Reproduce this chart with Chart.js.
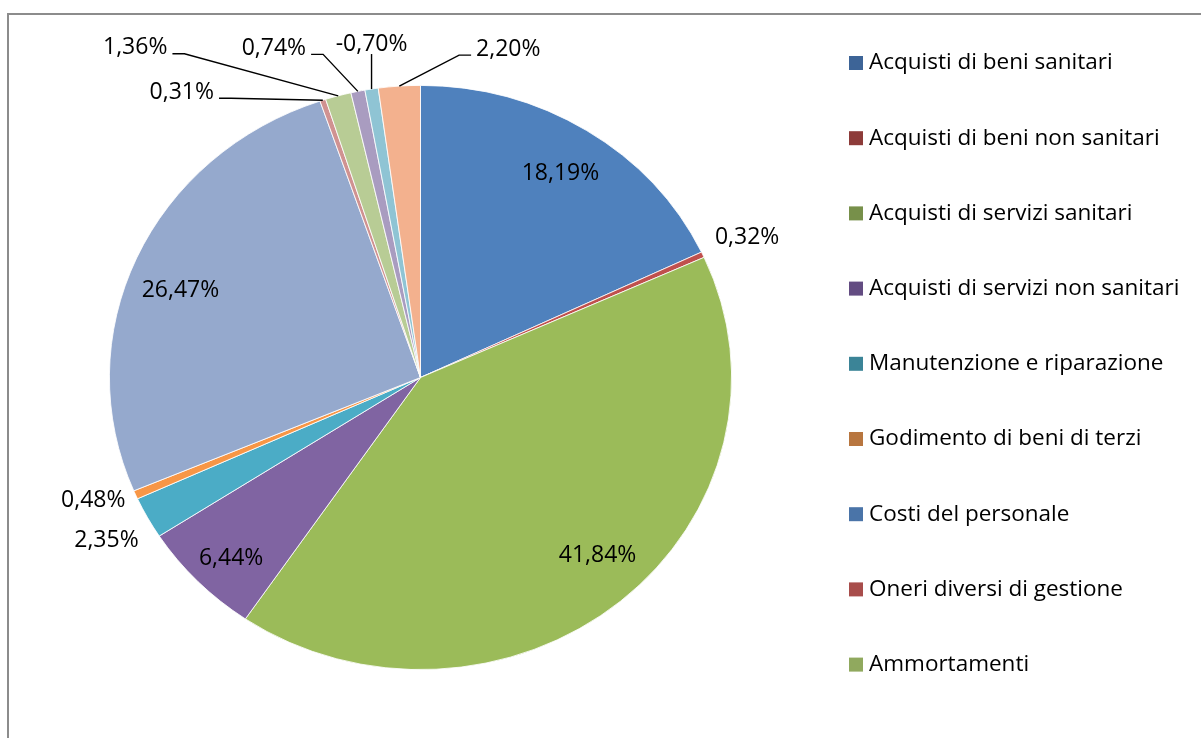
<!DOCTYPE html>
<html lang="it">
<head>
<meta charset="utf-8">
<title>Composizione dei costi</title>
<script src="https://cdn.jsdelivr.net/npm/chart.js@4"></script>
<style>
  html, body { margin: 0; padding: 0; background: #fff; }
  #wrap { position: relative; width: 1201px; height: 738px; overflow: hidden; }
</style>
</head>
<body>
<div id="wrap">
  <canvas id="costChart" width="1201" height="738"></canvas>
</div>
<script>
const categories = [
  'Acquisti di beni sanitari',
  'Acquisti di beni non sanitari',
  'Acquisti di servizi sanitari',
  'Acquisti di servizi non sanitari',
  'Manutenzione e riparazione',
  'Godimento di beni di terzi',
  'Costi del personale',
  'Oneri diversi di gestione',
  'Ammortamenti',
  'Svalutazioni',
  'Variazione delle rimanenze',
  'Accantonamenti'
];

const values = [18.19, 0.32, 41.84, 6.44, 2.35, 0.48, 26.47, 0.31, 1.36, 0.74, -0.70, 2.20];

const sliceColors = [
  '#4F81BD', '#C0504D', '#9BBB59', '#8064A2', '#4BACC6', '#F79646',
  '#95A9CD', '#D09291', '#B8CC95', '#A99CC0', '#8FC4D4', '#F3B18E'
];

const legendColors = [
  '#3D6497', '#8D3B39', '#77904A', '#634C82', '#3B8497', '#B8763F',
  '#4A74A8', '#A84D4B', '#90A95E'
];

// how many legend rows fit in the frame
const LEGEND_ROWS = 9;

// the reference pie is a little wider than tall
const STRETCH_X = 1.065;

const LABEL_FONT = '23px "Open Sans"';
const LEGEND_FONT = '22.5px "Open Sans"';

// label placement: at a radius factor (plus a small nudge), or moved away with a leader line
const labelPlacement = [
  { r: 0.83, dx: 2, dy: 1 },
  { r: 1.15, dx: 2, dy: 1 },
  { r: 0.82, dx: 13, dy: -5 },
  { r: 0.90, dx: 11, dy: -3 },
  { r: 1.14, dx: -3, dy: 3 },
  { r: 1.11, dx: -11, dy: -7 },
  { r: 0.80, dx: -13, dy: 9 },
  { leader: 'right', dx: -141, dy: -8 },
  { leader: 'right', dx: -203, dy: -48 },
  { leader: 'right', dx: -84, dy: -43 },
  { leader: 'bottom', dx: 0, dy: -45 },
  { leader: 'left', dx: 109, dy: -37 }
];

function formatPct(v) {
  return v.toFixed(2).replace('.', ',') + '%';
}

/**
 * Stretch the pie horizontally around its centre
 */
const stretchPlugin = {
  id: 'stretch',
  beforeDatasetsDraw(chart) {
    const arc = chart.getDatasetMeta(0).data[0];
    const ctx = chart.ctx;
    ctx.save();
    ctx.translate(arc.x, arc.y);
    ctx.scale(STRETCH_X, 1);
    ctx.translate(-arc.x, -arc.y);
  },
  afterDatasetsDraw(chart) {
    chart.ctx.restore();
  }
};

/**
 * Frame lines (only left and top edges are visible)
 */
const framePlugin = {
  id: 'frame',
  beforeDraw(chart) {
    const ctx = chart.ctx;
    ctx.save();
    ctx.strokeStyle = '#8C8C8C';
    ctx.lineWidth = 2;
    ctx.beginPath();
    ctx.moveTo(8, chart.height + 5);
    ctx.lineTo(8, 14);
    ctx.lineTo(chart.width + 5, 14);
    ctx.stroke();
    ctx.restore();
  }
};

/**
 * Percent labels on and around the slices
 */
const labelPlugin = {
  id: 'sliceLabels',
  afterDraw(chart) {
    const ctx = chart.ctx;
    const arcs = chart.getDatasetMeta(0).data;
    ctx.save();
    ctx.font = LABEL_FONT;
    ctx.fillStyle = '#000';
    ctx.strokeStyle = '#000';
    ctx.lineWidth = 1.4;
    ctx.textAlign = 'center';
    ctx.textBaseline = 'middle';

    arcs.forEach((arc, i) => {
      const p = arc.getProps(['x', 'y', 'startAngle', 'endAngle', 'outerRadius'], true);
      const mid = (p.startAngle + p.endAngle) / 2;
      const at = r => ({ x: p.x + Math.cos(mid) * r * STRETCH_X, y: p.y + Math.sin(mid) * r });
      const place = labelPlacement[i];
      const text = formatPct(values[i]);

      if (!place.leader) {
        const c = at(p.outerRadius * place.r);
        ctx.fillText(text, c.x + place.dx, c.y + place.dy);
        return;
      }

      const edge = at(p.outerRadius);
      const lx = edge.x + place.dx;
      const ly = edge.y + place.dy;
      ctx.fillText(text, lx, ly);

      const w = ctx.measureText(text).width;
      ctx.beginPath();
      if (place.leader === 'bottom') {
        ctx.moveTo(edge.x, ly + 10);
        ctx.lineTo(edge.x, edge.y);
      } else {
        const dir = place.leader === 'right' ? 1 : -1;
        const sx = lx + dir * (w / 2 + 5);
        const sy = ly + 6;
        ctx.moveTo(sx, sy);
        ctx.lineTo(sx + dir * 12, sy);
        ctx.lineTo(edge.x, edge.y);
      }
      ctx.stroke();
    });
    ctx.restore();
  }
};

/**
 * Legend on the right
 */
const legendPlugin = {
  id: 'sideLegend',
  afterDraw(chart) {
    const ctx = chart.ctx;
    ctx.save();
    ctx.font = LEGEND_FONT;
    ctx.textAlign = 'left';
    ctx.textBaseline = 'middle';
    for (let i = 0; i < LEGEND_ROWS; i++) {
      const y = 56 + i * 75.2;
      ctx.fillStyle = legendColors[i];
      ctx.fillRect(849, y, 14, 14);
      ctx.fillStyle = '#000';
      ctx.fillText(categories[i], 869, y + 7);
    }
    ctx.restore();
  }
};

new Chart(document.getElementById('costChart'), {
  type: 'pie',
  data: {
    labels: categories,
    datasets: [{
      data: values,
      backgroundColor: sliceColors,
      borderColor: '#ffffff',
      borderWidth: 0.8
    }]
  },
  options: {
    responsive: false,
    animation: false,
    layout: { padding: { left: 128, right: 488, top: 85, bottom: 68 } },
    plugins: {
      legend: { display: false },
      tooltip: { enabled: false }
    }
  },
  plugins: [framePlugin, stretchPlugin, labelPlugin, legendPlugin]
});
</script>
</body>
</html>
